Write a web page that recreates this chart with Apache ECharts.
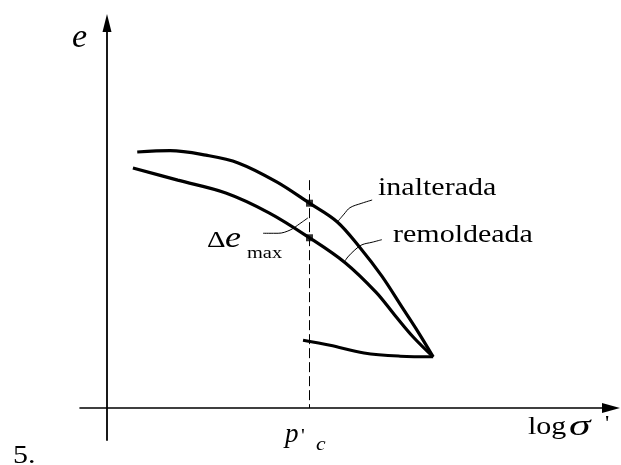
<!DOCTYPE html>
<html>
<head>
<meta charset="utf-8">
<style>
  html, body { margin: 0; padding: 0; background: #ffffff; }
  #chart { width: 621px; height: 465px; }
</style>
<script src="https://cdn.jsdelivr.net/npm/echarts@6/dist/echarts.min.js"></script>
</head>
<body>
<div id="chart"></div>
<script>
// e - log(sigma') compression curves: undisturbed vs remoulded sample
var inalterada = [
  [0.56, 4.00], [1.17, 4.02], [1.83, 3.95], [2.43, 3.83], [3.15, 3.53],
  [3.75, 3.20], [4.26, 2.91], [4.69, 2.50], [5.09, 2.06], [5.46, 1.58],
  [5.76, 1.19], [6.04, 0.80]
];
var remoldeada = [
  [0.48, 3.75], [1.31, 3.56], [2.20, 3.36], [3.00, 3.05], [3.75, 2.66],
  [4.41, 2.27], [4.98, 1.81], [5.33, 1.45], [5.67, 1.11], [6.04, 0.80]
];
var descarga = [
  [3.63, 1.06], [4.13, 0.98], [4.76, 0.86], [5.43, 0.81], [6.04, 0.80]
];
// preconsolidation pressure and the two readings taken on it
var pc = 3.75;
var pcMarks = [[pc, 3.20], [pc, 2.66]];
var pcLine = [[pc, 3.56], [pc, 0]];
// leader lines from the labels to the curves
var leaderInalterada = [[4.91, 3.25], [4.72, 3.20], [4.50, 3.13], [4.39, 3.03], [4.28, 2.92]];
var leaderRemoldeada = [[5.09, 2.63], [4.91, 2.59], [4.72, 2.55], [4.59, 2.47], [4.46, 2.36], [4.41, 2.30]];
var leaderDelta = [[2.89, 2.73], [3.17, 2.73], [3.39, 2.78], [3.57, 2.88], [3.72, 2.97]];

var chart = echarts.init(document.getElementById('chart'), null, { renderer: 'canvas' });

var serif = '"Liberation Serif", "DejaVu Serif", serif';
// x = left edge, y = top of the text box
function txt(x, y, s, font, sx) {
  return {
    type: 'text', x: x, y: y, scaleX: sx || 1.2, z: 10,
    style: { text: s, font: font, fill: '#000', verticalAlign: 'top', align: 'left' }
  };
}

function curve(data, width) {
  return {
    type: 'line', data: data, smooth: 0.35, symbol: 'none',
    lineStyle: { color: '#000', width: width }, silent: true
  };
}

chart.setOption({
  animation: false,
  backgroundColor: '#ffffff',
  grid: { left: 80, right: 10, top: 23, bottom: 25 },
  xAxis: {
    type: 'value', min: -0.5, max: 9.3333,
    axisLine: { onZero: true, lineStyle: { color: '#000', width: 1.6 },
      symbol: ['none', 'triangle'], symbolSize: [10, 18] },
    axisTick: { show: false }, axisLabel: { show: false }, splitLine: { show: false }
  },
  yAxis: {
    type: 'value', min: -0.5, max: 6.015625,
    axisLine: { onZero: true, lineStyle: { color: '#000', width: 1.8 },
      symbol: ['none', 'triangle'], symbolSize: [9, 18] },
    axisTick: { show: false }, axisLabel: { show: false }, splitLine: { show: false }
  },
  series: [
    curve(inalterada, 3.2),
    curve(remoldeada, 3.2),
    curve(descarga, 3),
    {
      type: 'line', data: pcLine, symbol: 'none', silent: true,
      lineStyle: { color: '#000', width: 1, type: [10, 4] }
    },
    {
      type: 'scatter', data: pcMarks, symbol: 'rect', symbolSize: 7,
      itemStyle: { color: '#000' }, silent: true, z: 5
    },
    curve(leaderInalterada, 1),
    curve(leaderRemoldeada, 1),
    curve(leaderDelta, 1)
  ],
  graphic: [
    txt(72, 21, 'e', 'italic 34px ' + serif, 1),
    txt(378, 176, 'inalterada', '25px ' + serif),
    txt(393, 223, 'remoldeada', '25px ' + serif),
    txt(207, 229, '\u0394', '24px ' + serif),
    txt(225, 224, 'e', 'italic 30px ' + serif),
    txt(247, 245, 'max', '17px ' + serif),
    txt(285, 421, 'p', 'italic 27px ' + serif, 1),
    txt(301, 428, '\'', '18px ' + serif),
    txt(316, 436, 'c', 'italic 18px ' + serif),
    txt(528, 415, 'log', '25px ' + serif),
    txt(569, 413, '\u03C3', 'italic 29px ' + serif, 1.5),
    txt(605, 415, '\'', '20px ' + serif),
    txt(13, 444, '5.', '25px ' + serif)
  ]
});
</script>
</body>
</html>
